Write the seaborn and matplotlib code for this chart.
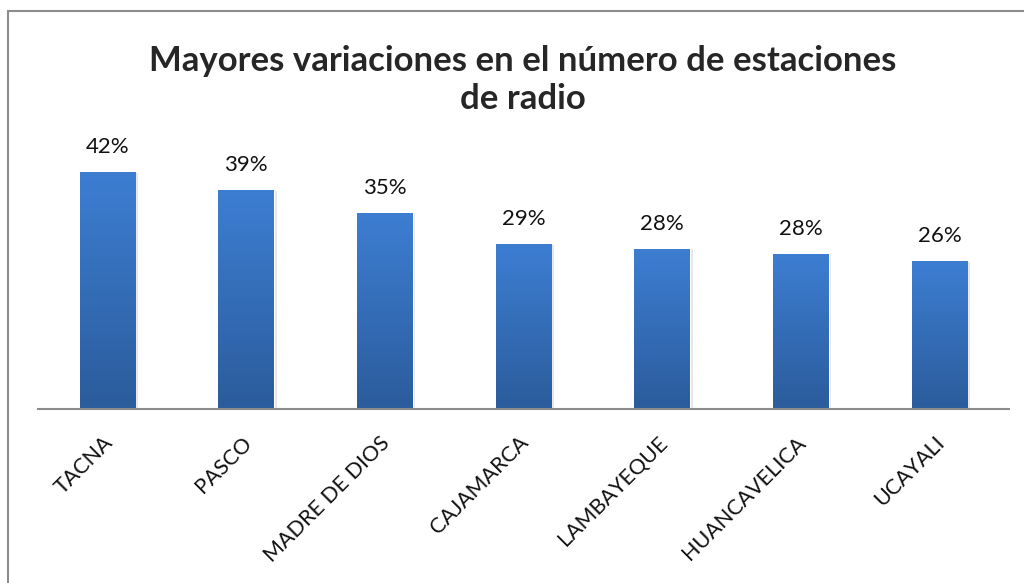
import numpy as np
import pandas as pd
import seaborn as sns
import matplotlib.pyplot as plt
import matplotlib.transforms as mtrans
from matplotlib.lines import Line2D
from matplotlib.colors import LinearSegmentedColormap

departamentos = ['TACNA', 'PASCO', 'MADRE DE DIOS', 'CAJAMARCA', 'LAMBAYEQUE', 'HUANCAVELICA', 'UCAYALI']
variacion = [42.0, 38.8, 34.7, 29.2, 28.4, 27.5, 26.2]

df = pd.DataFrame({'dep': departamentos, 'var': variacion})

sns.set_style('white')
plt.rcParams['font.family'] = ['Lato', 'DejaVu Sans']

fig = plt.figure(figsize=(10.24, 5.83), dpi=100)
ax = fig.add_axes([38 / 1024, 1 - 409 / 583, 971 / 1024, 279 / 583])

sns.barplot(data=df, x='dep', y='var', color='#3A78C8', width=0.40, ax=ax)

# gradient fill on each bar (light top, dark bottom)
cmap = LinearSegmentedColormap.from_list('barra', ['#2B5C9C', '#3D7ED2'])
grad = np.linspace(0, 1, 256).reshape(-1, 1)
for p in list(ax.patches):
    x0, w, h = p.get_x(), p.get_width(), p.get_height()
    # soft shadow
    ax.add_patch(plt.Rectangle((x0 + 0.02, 0), w, h - 0.15, color='#000000', alpha=0.10, zorder=1, lw=0))
    im = ax.imshow(grad, cmap=cmap, origin='lower', aspect='auto',
                   extent=[x0, x0 + w, 0, h], zorder=2)
    im.set_clip_path(p)
    p.set_zorder(2)
    ax.text(x0 + w / 2, h + 2.6, f'{h:.0f}%', ha='center', va='bottom', fontsize=16, color='#111111')
ax.set_xlim(-0.5, len(departamentos) - 0.5)
ax.set_ylim(0, 49.4)

for s in ['top', 'right', 'left']:
    ax.spines[s].set_visible(False)
ax.spines['bottom'].set_color('#8C8C8C')
ax.spines['bottom'].set_linewidth(1.5)
ax.set_yticks([])
ax.set_xlabel('')
ax.set_ylabel('')
ax.tick_params(axis='x', length=0, pad=17)
ax.set_xticks(range(len(departamentos)))
ax.set_xticklabels(departamentos, rotation=45, ha='right', rotation_mode='anchor', fontsize=15.5, color='#111111')
offset = mtrans.ScaledTranslation(-0.05, 0, fig.dpi_scale_trans)
for lbl in ax.get_xticklabels():
    lbl.set_transform(lbl.get_transform() + offset)

fig.text(523 / 1024, 1 - 80 / 583, 'Mayores variaciones en el número de estaciones\nde radio',
         ha='center', va='center', fontsize=25, fontweight='bold', linespacing=1.25)

# chart frame (left and top edges visible)
fig.add_artist(Line2D([8 / 1024, 8 / 1024], [0, 1 - 11 / 583], transform=fig.transFigure, color='#8C8C8C', lw=1.5))
fig.add_artist(Line2D([8 / 1024, 1], [1 - 11 / 583, 1 - 11 / 583], transform=fig.transFigure, color='#8C8C8C', lw=1.5))

fig.savefig('out.png', dpi=100)
